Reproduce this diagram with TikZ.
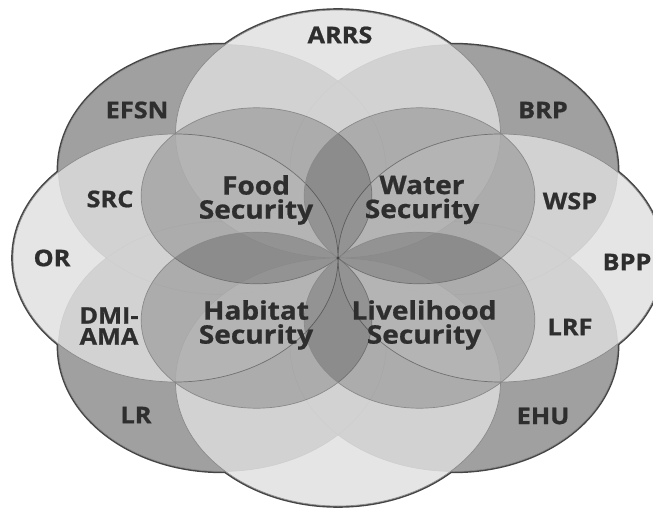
\documentclass[tikz,border=0pt]{standalone}
\usepackage{fontspec}
\usepackage{graphicx}
\newfontfamily\lblfont{Open Sans}[BoldFeatures={FakeBold=0.8}]
\definecolor{edgecol}{HTML}{454545}
\definecolor{thincol}{HTML}{8A8A8A}
\definecolor{txtcol}{HTML}{2E2E2E}
\definecolor{axisfill}{HTML}{DFDFDF}
\definecolor{diagfill}{HTML}{A0A0A0}
\newcommand\stx[1]{\scalebox{1.1}[1]{#1}}
\begin{document}
\begin{tikzpicture}[x=1pt,y=-1pt,
  sil/.style={draw=edgecol,line width=3.6pt},
  blank/.style={fill=white},
  diagf/.style={fill=diagfill},
  diagl/.style={draw=thincol,line width=0.7pt},
  axisc/.style={fill=axisfill,fill opacity=0.8,draw=thincol,line width=0.7pt},
  innerc/.style={fill=black,fill opacity=0.18,draw=thincol,line width=0.7pt},
  outl/.style={font=\lblfont\bfseries\fontsize{23}{21}\selectfont,text=txtcol,align=center,inner sep=0pt},
  inl/.style={font=\lblfont\bfseries\fontsize{25.5}{24}\selectfont,text=txtcol,align=center,inner sep=0pt}]
\useasboundingbox (0,0) rectangle (653,508);
\clip (0,0) rectangle (653,508);
% centres
\coordinate (O) at (338,258);
\coordinate (cN) at (338,134);
\coordinate (cS) at (338,382);
\coordinate (cE) at (500.5,258);
\coordinate (cW) at (175.5,258);
\coordinate (cNE) at (453.8,169.6);
\coordinate (cNW) at (222.2,169.6);
\coordinate (cSW) at (222.2,346.4);
\coordinate (cSE) at (453.8,346.4);
\coordinate (iNW) at (256.5,195.8);
\coordinate (iNE) at (419.5,195.8);
\coordinate (iSW) at (256.5,320.2);
\coordinate (iSE) at (419.5,320.2);
% silhouette
\foreach \c in {cN,cS,cE,cW}
  \draw[sil] (\c) ellipse [x radius=162.5pt, y radius=124pt];
\foreach \c in {cNE,cNW,cSW,cSE}
  \draw[sil] (\c) ellipse [x radius=163.75pt, y radius=125pt];
\foreach \c in {cN,cS,cE,cW}
  \fill[blank] (\c) ellipse [x radius=162.5pt, y radius=124pt];
% diagonal petals
\foreach \c in {cNE,cNW,cSW,cSE}
  \fill[diagf] (\c) ellipse [x radius=163.75pt, y radius=125pt];
\foreach \c in {cNE,cNW,cSW,cSE}
  \draw[diagl] (\c) ellipse [x radius=163.75pt, y radius=125pt];
% axis petals
\foreach \c in {cN,cS,cE,cW}
  \draw[axisc] (\c) ellipse [x radius=162.5pt, y radius=124pt];
% inner circles
\foreach \c in {iNW,iNE,iSW,iSE}
  \draw[innerc] (\c) ellipse [x radius=115.3pt, y radius=88pt];
\fill[edgecol] (O) circle (1.6pt);
% labels
\node[outl] (arrs) at (340,35) {\stx{ARRS}};
\node[outl] (efsn) at (137,110) {\stx{EFSN}};
\node[outl] (brp) at (543,110) {\stx{BRP}};
\node[outl] (src) at (110,199) {\stx{SRC}};
\node[outl] (wsp) at (570,201) {\stx{WSP}};
\node[outl] (or) at (52,258) {\stx{OR}};
\node[outl] (bpp) at (627,262) {\stx{BPP}};
\node[outl] (dmi) at (109,326) {\stx{DMI-}\\\stx{AMA}};
\node[outl] (lrf) at (570,327) {\stx{LRF}};
\node[outl] (lr) at (136,415) {\stx{LR}};
\node[outl] (ehu) at (543,416) {\stx{EHU}};
\node[inl] (food) at (256,200) {\stx{Food}\\\stx{Security}};
\node[inl] (water) at (422,200) {\stx{Water}\\\stx{Security}};
\node[inl] (habitat) at (256,325) {\stx{Habitat}\\\stx{Security}};
\node[inl] (liveli) at (424,325) {\stx{Livelihood}\\\stx{Security}};
\end{tikzpicture}
\end{document}
